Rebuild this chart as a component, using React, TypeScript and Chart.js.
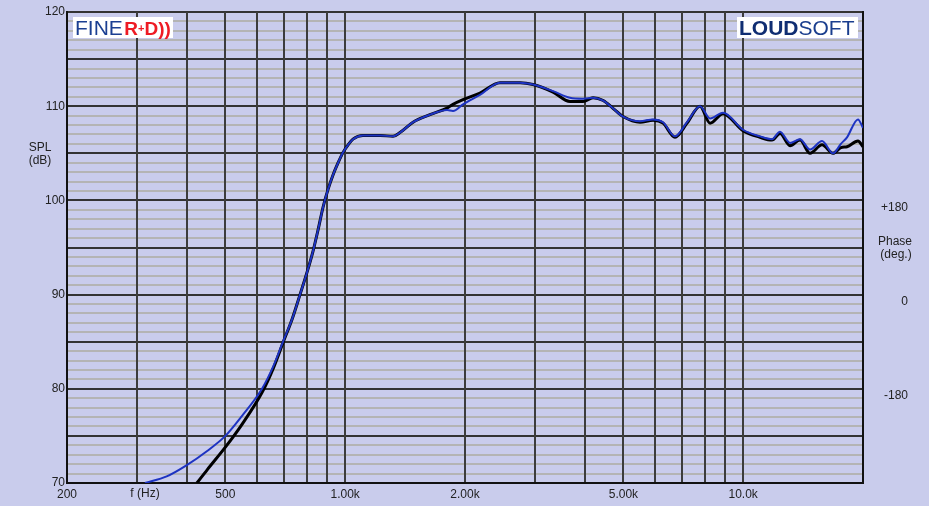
import { useEffect, useRef } from 'react';
import { Chart, registerables } from 'chart.js';

Chart.register(...registerables);

// ---- data ----
const BLUE_FREQ = [314, 356, 400, 450, 500, 550, 618, 660, 698, 737, 770, 801, 830, 855, 880, 906, 932, 960, 988, 1017, 1046, 1108, 1223, 1319, 1373, 1481, 1633, 1803, 1866, 1977, 2181, 2448, 2750, 2964, 3328, 3670, 3960, 4195, 4450, 4700, 4990, 5506, 5936, 6289, 6740, 7226, 7790, 8254, 8898, 9988, 11020, 11814, 12374, 13112, 13892, 14720, 15778, 16814, 17600, 18234, 19428, 20000];
const BLUE_SPL = [70.0, 70.7, 71.9, 73.4, 75.0, 77.1, 80.0, 82.4, 85.0, 87.5, 90.0, 92.3, 94.6, 96.9, 99.3, 101.2, 102.7, 104.0, 105.1, 105.9, 106.5, 106.9, 106.9, 106.8, 107.2, 108.3, 109.1, 109.6, 109.5, 110.2, 111.2, 112.5, 112.5, 112.3, 111.6, 110.9, 110.8, 110.9, 110.6, 109.8, 108.9, 108.4, 108.6, 108.3, 106.8, 108.3, 110.0, 108.7, 109.3, 107.5, 106.8, 106.5, 107.3, 106.1, 106.5, 105.4, 106.3, 105.0, 106.0, 106.7, 108.6, 107.7];

const BLACK_FREQ = [424, 450, 500, 550, 618, 660, 698, 737, 770, 801, 830, 855, 880, 906, 932, 960, 988, 1017, 1046, 1108, 1223, 1319, 1373, 1481, 1633, 1803, 1866, 1977, 2181, 2448, 2750, 2964, 3328, 3670, 3960, 4195, 4450, 4700, 4990, 5506, 5936, 6289, 6740, 7226, 7790, 8254, 8898, 9988, 11020, 11814, 12374, 13112, 13892, 14720, 15778, 16814, 17600, 18234, 19428, 20000];
const BLACK_SPL = [70.0, 71.4, 73.8, 76.2, 79.6, 82.2, 84.9, 87.5, 90.0, 92.3, 94.6, 96.9, 99.3, 101.2, 102.7, 104.0, 105.1, 105.9, 106.5, 106.9, 106.9, 106.8, 107.2, 108.3, 109.1, 109.8, 110.2, 110.7, 111.4, 112.5, 112.5, 112.3, 111.5, 110.5, 110.5, 110.9, 110.6, 109.8, 108.9, 108.3, 108.5, 108.2, 106.7, 108.2, 110.0, 108.2, 109.2, 107.4, 106.7, 106.4, 107.1, 105.8, 106.4, 105.0, 105.9, 105.0, 105.6, 105.7, 106.3, 105.7];

const X_MIN = 200;
const X_MAX = 20000;
const X_GRID = [200, 300, 400, 500, 600, 700, 800, 900, 1000, 2000, 3000, 4000, 5000, 6000, 7000, 8000, 9000, 10000, 20000];
const X_TICK_VALUES = [200, 500, 1000, 2000, 5000, 10000];
const X_TICK_LABELS = ['200', '500', '1.00k', '2.00k', '5.00k', '10.0k'];
const X_TITLE = 'f (Hz)';
const X_TITLE_AT_HZ = 314;

const Y_MIN = 70;
const Y_MAX = 120;
const Y_LABEL_STEP = 10;
const Y_MAJOR_STEP = 5;
const Y_TITLE = ['SPL', '(dB)'];
const Y_TITLE_AT_DB = 105;

const PHASE_MIN = -360;
const PHASE_MAX = 540;
const PHASE_TICKS = [-180, 0, 180];
const PHASE_TICK_LABELS = ['-180', '0', '+180'];
const PHASE_TITLE = ['Phase', '(deg.)'];

const FONT = "'Liberation Sans', Arial, Helvetica, sans-serif";
const BG = '#c9ccec';

const textPlugin = {
  id: 'extraText',
  afterDraw(chart: any) {
    const ctx: CanvasRenderingContext2D = chart.ctx;
    const xs = chart.scales.x;
    const ys = chart.scales.y;
    const area = chart.chartArea;
    ctx.save();
    ctx.fillStyle = '#222';
    ctx.font = `12px ${FONT}`;
    ctx.textAlign = 'center';
    ctx.textBaseline = 'middle';
    // x title
    ctx.fillText(X_TITLE, xs.getPixelForValue(X_TITLE_AT_HZ), xs.top + 10.5);
    // SPL title
    const sy = ys.getPixelForValue(Y_TITLE_AT_DB);
    ctx.fillText(Y_TITLE[0], 40, sy - 6);
    ctx.fillText(Y_TITLE[1], 40, sy + 7);
    // Phase title
    const py = (area.top + area.bottom) / 2;
    ctx.fillText(PHASE_TITLE[0], 895, py - 6);
    ctx.fillText(PHASE_TITLE[1], 896, py + 7.5);

    // logos
    ctx.fillStyle = '#ffffff';
    ctx.fillRect(73, 17, 100, 21);
    ctx.fillRect(737, 17, 121, 21);
    ctx.textAlign = 'left';
    ctx.textBaseline = 'alphabetic';
    let x = 75;
    const base = 35;
    ctx.font = `21px ${FONT}`;
    ctx.fillStyle = '#1b3f92';
    ctx.fillText('FINE', x, base);
    x += ctx.measureText('FINE').width + 1.5;
    ctx.fillStyle = '#ee1b24';
    ctx.font = `bold 19px ${FONT}`;
    ctx.fillText('R', x, base);
    x += ctx.measureText('R').width;
    ctx.font = `bold 11px ${FONT}`;
    ctx.fillText('+', x, base - 3);
    x += ctx.measureText('+').width;
    ctx.font = `bold 19px ${FONT}`;
    ctx.fillText('D', x, base);
    x += ctx.measureText('D').width;
    ctx.fillText('))', x, base);

    x = 739;
    ctx.font = `bold 21px ${FONT}`;
    ctx.fillStyle = '#0f2d72';
    ctx.fillText('LOUD', x, base);
    x += ctx.measureText('LOUD').width;
    ctx.font = `21px ${FONT}`;
    ctx.fillStyle = '#1a3e8e';
    ctx.fillText('SOFT', x, base);
    ctx.restore();
  },
};

export default function App() {
  const canvasRef = useRef<HTMLCanvasElement | null>(null);

  useEffect(() => {
    document.body.style.margin = '0';
    document.body.style.background = BG;
    const canvas = canvasRef.current;
    if (!canvas) return;

    const blueData = BLUE_FREQ.map((f, i) => ({ x: f, y: BLUE_SPL[i] }));
    const blackData = BLACK_FREQ.map((f, i) => ({ x: f, y: BLACK_SPL[i] }));

    const yTicks: number[] = [];
    for (let v = Y_MIN; v <= Y_MAX; v++) yTicks.push(v);

    const chart = new Chart(canvas, {
      type: 'line',
      data: {
        datasets: [
          {
            label: 'blue',
            data: blueData,
            borderColor: '#1d33c2',
            borderWidth: 2,
            pointRadius: 0,
            fill: false,
            cubicInterpolationMode: 'monotone',
            order: 0,
          },
          {
            label: 'black',
            data: blackData,
            borderColor: '#000000',
            borderWidth: 3,
            pointRadius: 0,
            fill: false,
            cubicInterpolationMode: 'monotone',
            order: 1,
          },
        ],
      },
      options: {
        animation: false,
        responsive: false,
        maintainAspectRatio: false,
        layout: { padding: { top: 12, left: 0, right: 21, bottom: 0 } },
        plugins: {
          legend: { display: false },
          tooltip: { enabled: false },
        },
        scales: {
          x: {
            type: 'logarithmic',
            min: X_MIN,
            max: X_MAX,
            afterBuildTicks: (s: any) => {
              s.ticks = X_GRID.map((v) => ({ value: v }));
            },
            afterFit: (s: any) => {
              s.height = 23;
            },
            grid: { color: '#3c3c3c', lineWidth: 2, drawTicks: false, z: -1 },
            border: { display: true, color: '#111', width: 2 },
            ticks: {
              autoSkip: false,
              maxRotation: 0,
              minRotation: 0,
              padding: 4,
              color: '#222',
              font: { family: FONT, size: 12 },
              callback: (v: any) => {
                const i = X_TICK_VALUES.indexOf(Number(v));
                return i >= 0 ? X_TICK_LABELS[i] : '';
              },
            },
          },
          y: {
            type: 'linear',
            position: 'left',
            min: Y_MIN,
            max: Y_MAX,
            afterBuildTicks: (s: any) => {
              s.ticks = yTicks.map((v) => ({ value: v }));
            },
            afterFit: (s: any) => {
              s.width = 67;
            },
            grid: {
              color: (c: any) => (c.tick && c.tick.value % Y_MAJOR_STEP === 0 ? '#333333' : '#b4b4b4'),
              lineWidth: 2,
              drawTicks: false,
              z: -2,
            },
            border: { display: true, color: '#111', width: 2 },
            ticks: {
              autoSkip: false,
              padding: 2,
              color: '#222',
              font: { family: FONT, size: 12 },
              callback: (v: any) => (Number(v) % Y_LABEL_STEP === 0 ? String(v) : ''),
            },
          },
          y2: {
            type: 'linear',
            position: 'right',
            min: PHASE_MIN,
            max: PHASE_MAX,
            afterBuildTicks: (s: any) => {
              s.ticks = PHASE_TICKS.map((v) => ({ value: v }));
            },
            afterFit: (s: any) => {
              s.width = 45;
            },
            grid: {
              display: true,
              drawOnChartArea: false,
              drawTicks: false,
            },
            border: { display: true, color: '#111', width: 2 },
            ticks: {
              autoSkip: false,
              crossAlign: 'far',
              padding: 0,
              labelOffset: 7,
              color: '#222',
              font: { family: FONT, size: 12 },
              callback: (v: any) => {
                const i = PHASE_TICKS.indexOf(Number(v));
                return i >= 0 ? PHASE_TICK_LABELS[i] : '';
              },
            },
          },
        },
      },
      plugins: [textPlugin],
    } as any);

    return () => {
      chart.destroy();
    };
  }, []);

  return (
    <div style={{ width: 929, height: 506, background: BG }}>
      <canvas ref={canvasRef} width={929} height={506} style={{ display: 'block' }} />
    </div>
  );
}
